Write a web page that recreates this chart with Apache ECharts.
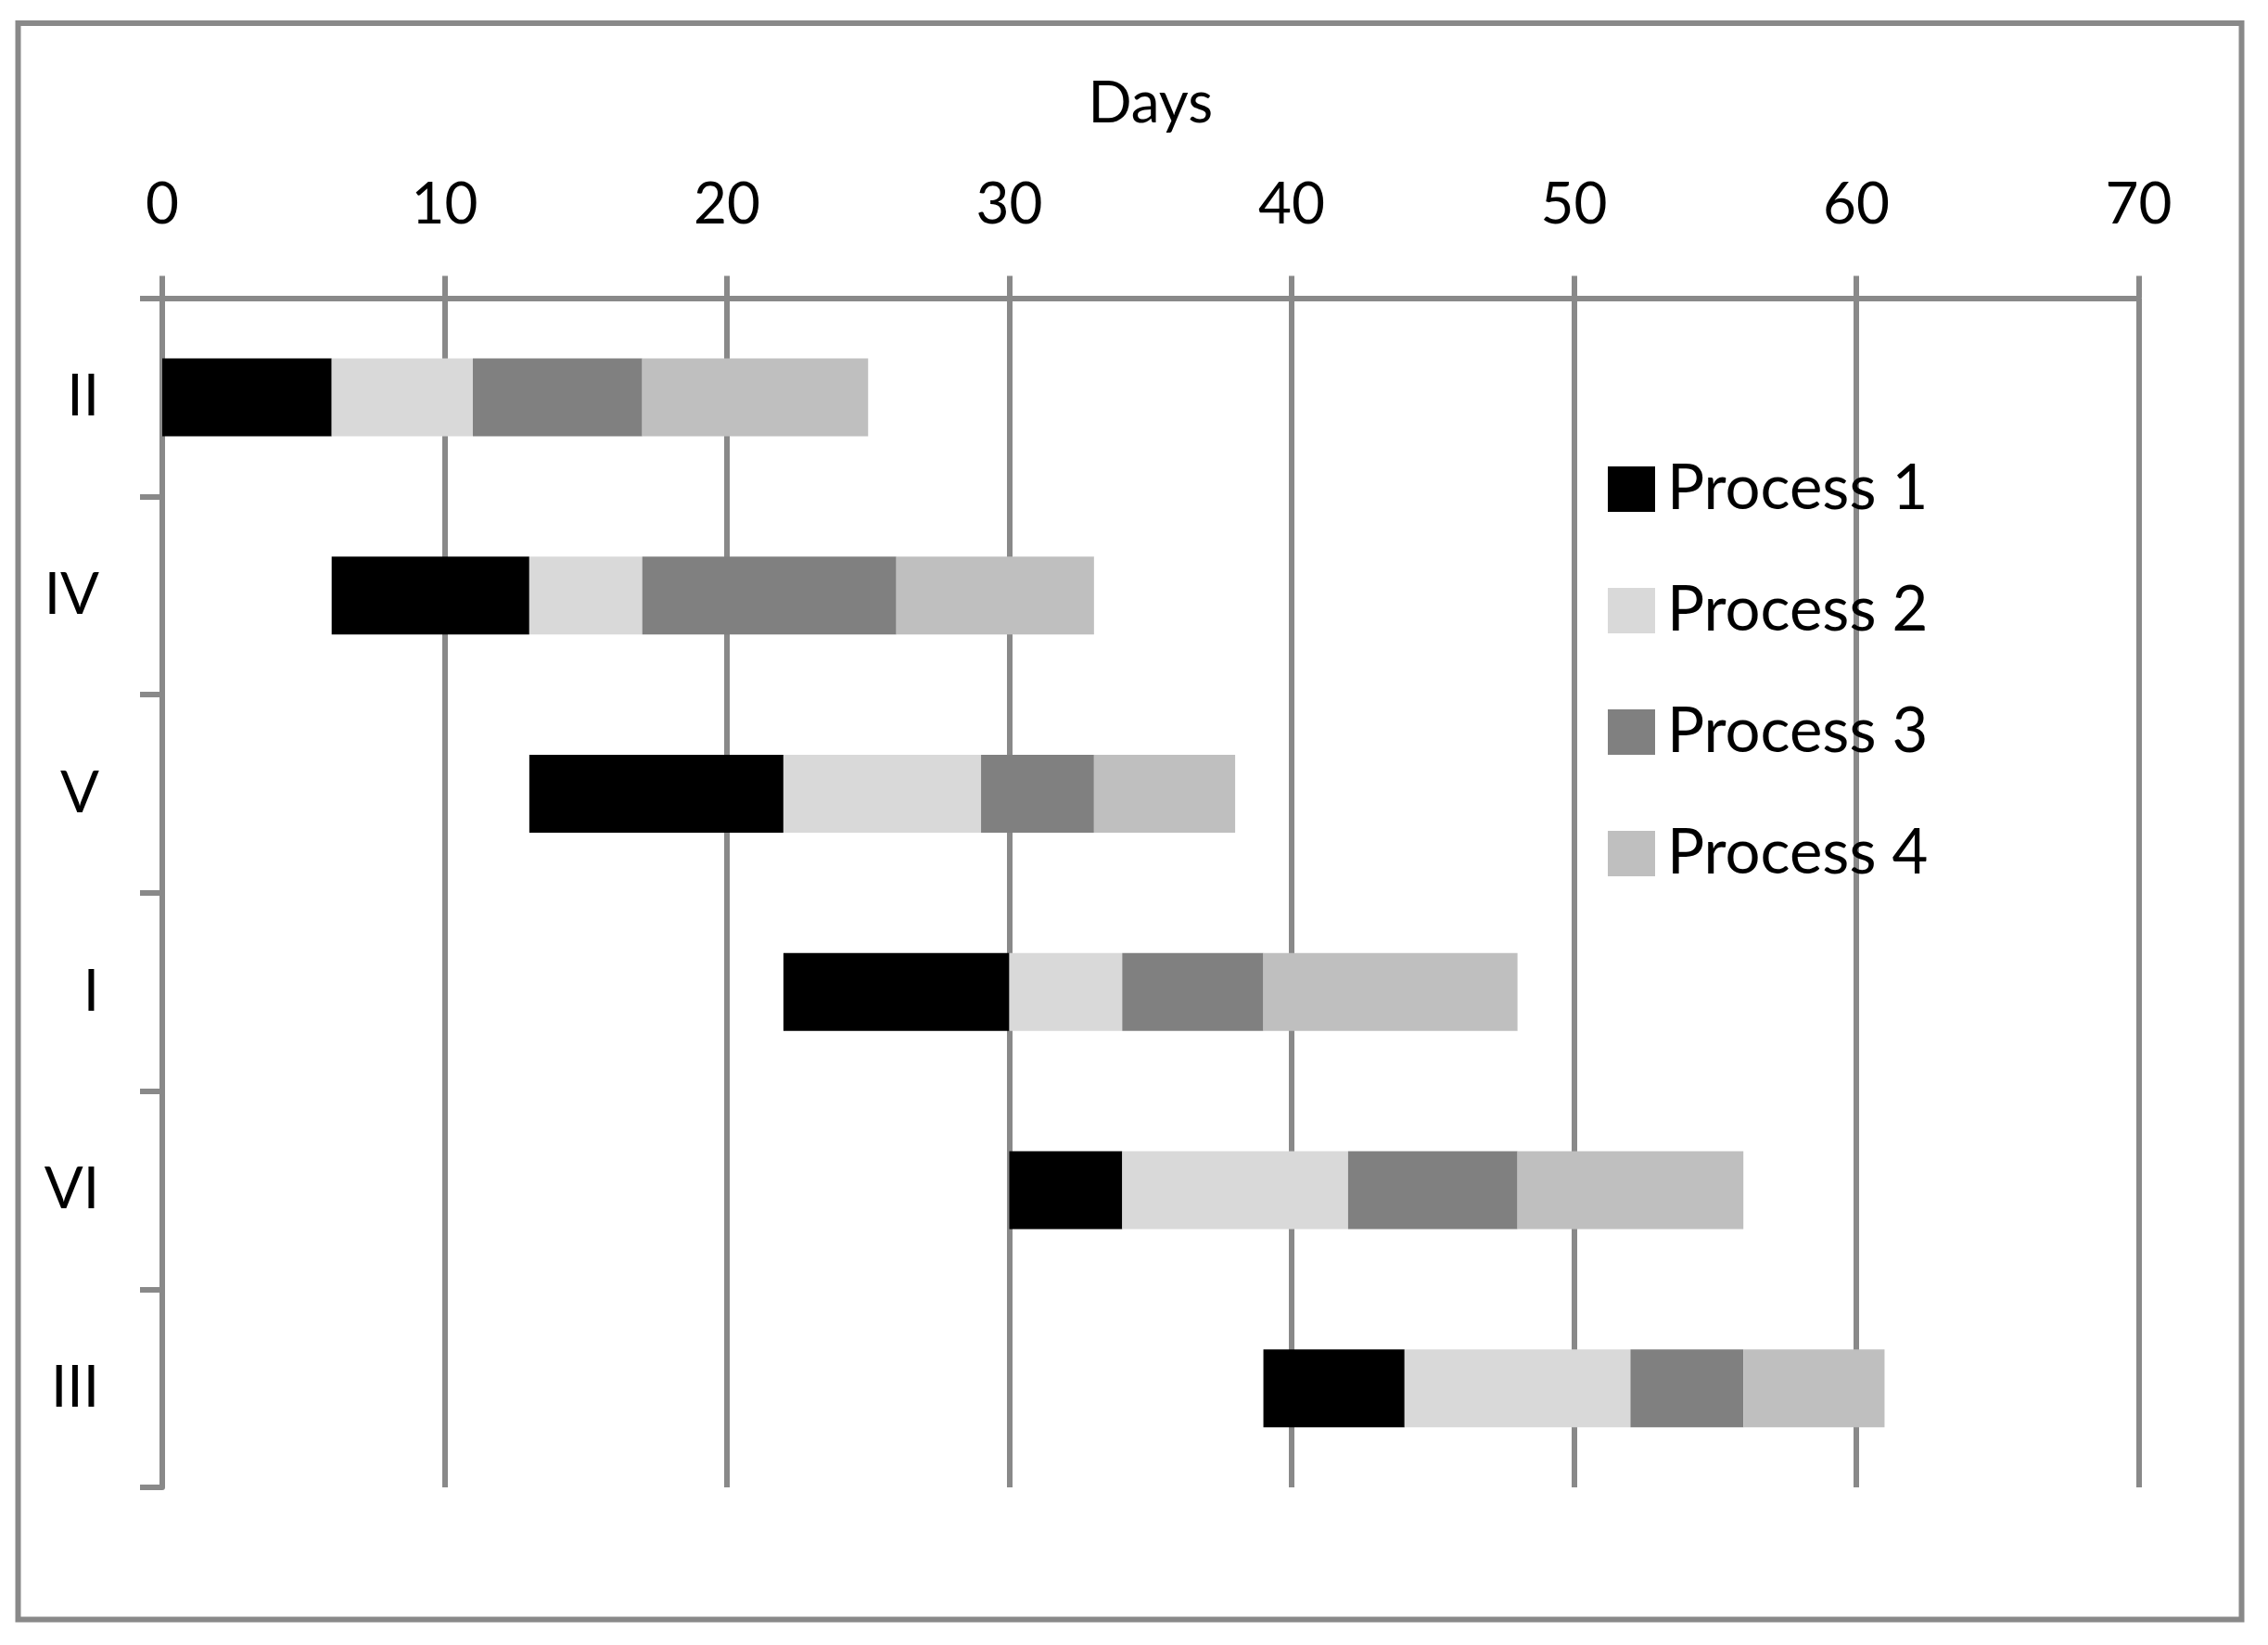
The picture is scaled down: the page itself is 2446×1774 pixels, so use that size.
<!DOCTYPE html>
<html>
<head>
<meta charset="utf-8">
<script src="https://cdn.jsdelivr.net/npm/echarts@6/dist/echarts.min.js"></script>
<style>
  html, body { margin: 0; padding: 0; background: #ffffff; }
  #chart { width: 2446px; height: 1774px; }
</style>
</head>
<body>
<div id="chart"></div>
<script>
// ---- data ----
const categories = ['II', 'IV', 'V', 'I', 'VI', 'III'];
const startDay = [0, 6, 13, 22, 30, 39];
const process1 = [6, 7, 9, 8, 4, 5];
const process2 = [5, 4, 7, 4, 8, 8];
const process3 = [6, 9, 4, 5, 6, 4];
const process4 = [8, 7, 5, 9, 8, 5];
const seriesNames = ['Process 1', 'Process 2', 'Process 3', 'Process 4'];
const xTicks = { min: 0, max: 70, interval: 10 };
const axisTitle = 'Days';

// ---- styles ----
const FONT = 'Lato, "Open Sans", sans-serif';
const GREY = '#898989';
const colors = ['#000000', '#D9D9D9', '#808080', '#BFBFBF'];

const chart = echarts.init(document.getElementById('chart'), null, { renderer: 'canvas' });

const values = [process1, process2, process3, process4];
const series = [{
  name: 'offset',
  type: 'bar',
  stack: 'total',
  data: startDay,
  barWidth: 84,
  silent: true,
  itemStyle: { color: 'rgba(0,0,0,0)' },
  emphasis: { disabled: true }
}].concat(seriesNames.map((n, i) => ({
  name: n,
  type: 'bar',
  stack: 'total',
  data: values[i],
  barWidth: 84,
  itemStyle: { color: colors[i] }
})));

chart.setOption({
  animation: false,
  backgroundColor: '#ffffff',
  textStyle: { fontFamily: FONT },
  grid: { left: 175, right: 139.5, top: 321.5, bottom: 170, containLabel: false },
  legend: {
    data: seriesNames,
    orient: 'vertical',
    left: 1729,
    top: 489,
    itemWidth: 51,
    itemHeight: 49,
    itemGap: 64,
    icon: 'rect',
    textStyle: { fontFamily: FONT, fontSize: 67, color: '#000', padding: [0, 0, 0, 8] }
  },
  xAxis: {
    type: 'value',
    position: 'top',
    min: xTicks.min,
    max: xTicks.max,
    interval: xTicks.interval,
    name: axisTitle,
    nameLocation: 'middle',
    nameGap: 179,
    nameTextStyle: { fontFamily: FONT, fontSize: 62, color: '#000' },
    axisLine: { show: true, lineStyle: { color: GREY, width: 6 } },
    axisTick: { show: true, length: 24, lineStyle: { color: GREY, width: 6 } },
    axisLabel: { fontFamily: FONT, fontSize: 62, color: '#000', margin: 70 },
    splitLine: { show: true, lineStyle: { color: GREY, width: 6 } }
  },
  yAxis: {
    type: 'category',
    data: categories,
    inverse: true,
    axisLine: { show: true, onZero: false, lineStyle: { color: GREY, width: 6 } },
    axisTick: { show: true, length: 24, lineStyle: { color: GREY, width: 6 } },
    axisLabel: { fontFamily: FONT, fontSize: 62, color: '#000', margin: 68 },
    splitLine: { show: false }
  },
  graphic: [{
    type: 'rect',
    shape: { x: 19.5, y: 25, width: 2398, height: 1721.5 },
    style: { fill: 'none', stroke: GREY, lineWidth: 6 },
    silent: true,
    z: -1
  }],
  series: series
});
</script>
</body>
</html>
